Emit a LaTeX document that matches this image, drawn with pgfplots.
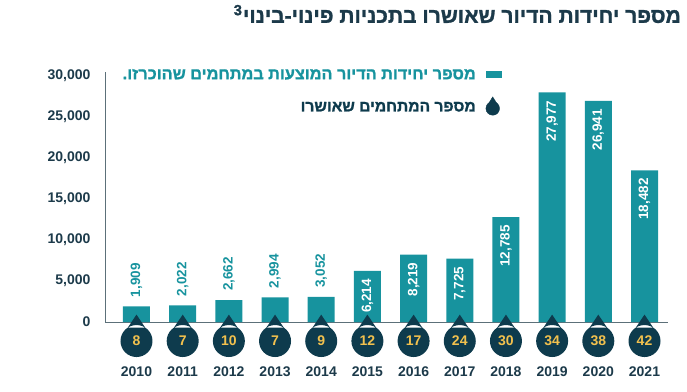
\documentclass[border=0pt]{standalone}
\usepackage{fontspec}
\setmainfont{Liberation Sans}
\newfontfamily\hebfont[Script=Hebrew, FakeBold=1.3]{Liberation Sans Bold}
\TeXXeTstate=1
\usepackage{graphicx}
\usepackage{pgfplots}
\pgfplotsset{compat=1.18}
\pgfplotsset{/pgf/number format/assume math mode=true, /pgf/number format/1000 sep={,}}

\definecolor{teal1}{HTML}{17939E}
\definecolor{navy}{HTML}{0E3B4D}
\definecolor{gold}{HTML}{F2C14E}
\definecolor{txt}{HTML}{1C3A4A}
\definecolor{axisc}{HTML}{5C7079}

\pgfdeclareplotmark{drop}{%
  \pgfpathcircle{\pgfpointorigin}{\pgfplotmarksize}%
  \pgfpathmoveto{\pgfpoint{-0.55\pgfplotmarksize}{0.83\pgfplotmarksize}}%
  \pgfpathlineto{\pgfpoint{0pt}{1.65\pgfplotmarksize}}%
  \pgfpathlineto{\pgfpoint{0.55\pgfplotmarksize}{0.83\pgfplotmarksize}}%
  \pgfpathclose
  \pgfusepathqfill}

\begin{document}
\begin{tikzpicture}
\useasboundingbox (0,0) rectangle (687pt,391pt);
\begin{axis}[
  at={(105pt,69pt)}, anchor=south west,
  scale only axis, width=563pt, height=249.6pt,
  xmin=2009.318, xmax=2021.509, ymin=0, ymax=30400,
  axis lines=left,
  axis line style={-, draw=axisc, line width=0.8pt},
  xtick={2010,2011,2012,2013,2014,2015,2016,2017,2018,2019,2020,2021},
  xticklabels={2010,2011,2012,2013,2014,2015,2016,2017,2018,2019,2020,2021},
  ytick={0,5000,10000,15000,20000,25000,30000},
  scaled y ticks=false,
  major tick length=0pt,
  clip=false,
  ticklabel style={font=\bfseries\fontsize{14}{14}\selectfont, text=txt},
  yticklabel style={anchor=east, xshift=-11pt},
  xticklabel style={anchor=center, yshift=-50pt},
  legend plot pos=right,
  legend cell align=right,
  legend style={at={(rel axis cs:0.705,1.022)}, anchor=north east, draw=none, fill=none,
    inner sep=0pt, row sep=14pt, column sep=8pt},
]
\addplot[ybar, bar width=27pt, fill=teal1, draw=none, bar shift=0pt,
  nodes near coords,
  every node near coord/.append style={rotate=90, anchor=west, text=teal1,
    font=\bfseries\fontsize{13.5}{13.5}\selectfont, inner xsep=9pt, inner ysep=0pt},
  legend image code/.code={\fill[teal1] (0pt,-3.5pt) rectangle (16pt,3.5pt);}]
  coordinates {(2010,1909) (2011,2022) (2012,2662) (2013,2994) (2014,3052)};
\addlegendentry{\resizebox{353pt}{!}{\color{teal1}\hebfont\beginR מספר יחידות הדיור המוצעות במתחמים שהוכרזו.\endR}}
\addplot[ybar, bar width=27pt, fill=teal1, draw=none, bar shift=0pt, forget plot,
  nodes near coords,
  every node near coord/.append style={rotate=90, anchor=east, text=white,
    font=\bfseries\fontsize{13.5}{13.5}\selectfont, inner xsep=8pt, inner ysep=0pt}]
  coordinates {(2015,6214) (2016,8219) (2017,7725) (2018,12785) (2019,27977) (2020,26941) (2021,18482)};
\addplot[only marks, mark=drop, mark size=16pt, color=navy,
  point meta=explicit,
  nodes near coords,
  every node near coord/.append style={anchor=center, text=gold,
    font=\bfseries\fontsize{14}{14}\selectfont, inner sep=0pt},
  legend image code/.code={\fill[navy] (7pt,-1pt) circle (6.8pt); \fill[navy] (3.3pt,4.6pt) -- (7pt,10.5pt) -- (10.7pt,4.6pt) -- cycle;}]
  coordinates {(2010,-2317) [8] (2011,-2317) [7] (2012,-2317) [10] (2013,-2317) [7]
    (2014,-2317) [9] (2015,-2317) [12] (2016,-2317) [17] (2017,-2317) [24]
    (2018,-2317) [30] (2019,-2317) [34] (2020,-2317) [38] (2021,-2317) [42]};
\addlegendentry{\resizebox{175pt}{!}{\color{navy}\hebfont\beginR מספר המתחמים שאושרו\endR}}
\end{axis}
\node[anchor=east, inner sep=0pt, text=txt] at (681pt,377pt)
  {\resizebox{447pt}{!}{\hebfont\beginR מספר יחידות הדיור שאושרו בתכניות פינוי-בינוי\textsuperscript{3}\endR}};
\end{tikzpicture}
\end{document}
